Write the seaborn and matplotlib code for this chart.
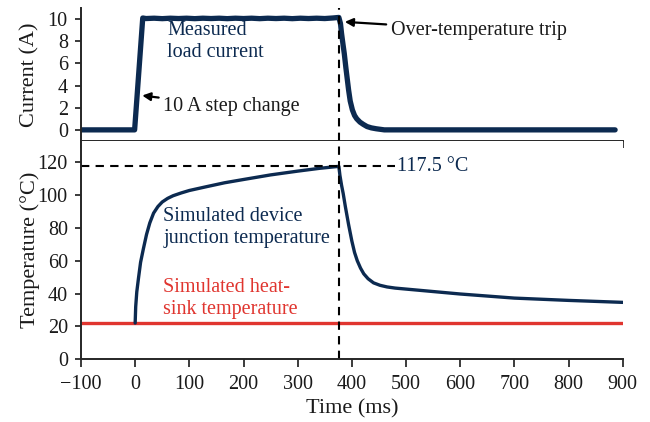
import matplotlib
matplotlib.use("Agg")
import matplotlib.pyplot as plt
import seaborn as sns

sns.set_style("ticks")
plt.rcParams['font.family'] = ['Liberation Serif', 'DejaVu Serif']
plt.rcParams['font.size'] = 14.5
plt.rcParams['xtick.labelsize'] = 14.5
plt.rcParams['ytick.labelsize'] = 14.5
plt.rcParams['axes.labelsize'] = 16
plt.rcParams['axes.unicode_minus'] = True
plt.rcParams['text.color'] = '#1a1a1a'
plt.rcParams['axes.labelcolor'] = '#1a1a1a'
plt.rcParams['xtick.color'] = '#1a1a1a'
plt.rcParams['ytick.color'] = '#1a1a1a'

NAVY = "#0c2a50"
RED = "#e0352f"

# Measured load current (ms, A)
cur_t = [-100, -50, -1, 14, 20, 35, 50, 65, 80, 95, 110, 125, 140, 155, 170, 185, 200, 215, 230,
         245, 260, 275, 290, 305, 320, 335, 350, 365, 376,
         379, 381, 384, 386, 389, 391, 394, 397, 401, 405, 409, 415, 421, 428, 436, 445, 460,
         500, 600, 700, 800, 886]
cur_i = [0.0, 0.0, 0.0, 10.1, 10.05, 10.08, 10.04, 10.08, 10.05, 10.08, 10.04, 10.08, 10.05, 10.08, 10.04, 10.08, 10.05, 10.08, 10.04,
         10.08, 10.05, 10.08, 10.04, 10.08, 10.05, 10.08, 10.05, 10.1, 10.15,
         9.6, 8.7, 7.6, 6.9, 5.6, 4.8, 3.6, 2.6, 1.8, 1.3, 1.0, 0.7, 0.5, 0.3, 0.18, 0.1, 0.0,
         0.0, 0.0, 0.0, 0.0, 0.0]

# Simulated device junction temperature (ms, degC)
tj_t = [0, 1, 3, 6, 10, 15, 21, 27, 34, 42, 50, 60, 70, 85, 100, 130, 165, 200, 250, 300, 340, 376,
        378, 381, 384, 388, 394, 400, 405, 410, 416, 422, 430, 440, 452, 465, 480, 500, 550, 600, 700, 800, 900]
tj_v = [22.0, 32.0, 41.0, 49.0, 59.0, 67.0, 76.0, 83.0, 89.0, 93.0, 95.8, 98.0, 99.6, 101.3, 102.8, 105.0, 107.5, 109.5, 112.3, 114.6, 116.3, 117.5,
        112.0, 106.0, 101.0, 93.0, 82.0, 72.0, 65.0, 60.0, 55.5, 52.0, 49.0, 46.5, 45.0, 44.0, 43.3, 42.7, 41.2, 39.7, 37.2, 35.8, 34.6]

# Simulated heat-sink temperature
hs_t = [-100, 900]
hs_v = [22.0, 22.0]

trip_t = 376
peak_T = 117.5

fig = plt.figure(figsize=(6.5, 4.22), dpi=100)
ax1 = fig.add_axes([0.1246, 0.666, 0.8334, 0.315])
ax2 = fig.add_axes([0.1246, 0.149, 0.8334, 0.517])

DASH = (0, (4, 3))
ARROW = dict(arrowstyle='-|>', color='black', lw=1.6, mutation_scale=12, shrinkA=1, shrinkB=0)

sns.lineplot(x=cur_t, y=cur_i, ax=ax1, color=NAVY, lw=3.8, estimator=None, sort=False)
ax1.set_xlim(-100, 900)
ax1.set_ylim(-1, 11)
ax1.set_yticks([0, 2, 4, 6, 8, 10])
ax1.set_xticks(range(-100, 1000, 100))
ax1.tick_params(axis='x', labelbottom=False, direction='out', length=5, width=1.2)
ax1.tick_params(axis='y', direction='out', length=4.5, width=1.2, pad=5)
ax1.set_ylabel("Current (A)")
ax1.yaxis.set_label_coords(-0.076, 0.5)
ax1.axvline(trip_t, color='black', ls=DASH, lw=1.5)
ax1.text(59, 8.0, "Measured\nload current", color=NAVY, va='center', ha='left', linespacing=1.22)
ax1.annotate("10 A step change", xy=(13, 3.1), xytext=(52, 2.1), ha='left', va='center', arrowprops=ARROW)
ax1.annotate("Over-temperature trip", xy=(387, 9.75), xytext=(472, 9.0), ha='left', va='center', arrowprops=ARROW)
sns.despine(ax=ax1)

sns.lineplot(x=hs_t, y=hs_v, ax=ax2, color=RED, lw=2.4, estimator=None)
sns.lineplot(x=tj_t, y=tj_v, ax=ax2, color=NAVY, lw=2.4, estimator=None, sort=False)
ax2.set_xlim(-100, 900)
ax2.set_ylim(0, 133)
ax2.set_yticks(range(0, 140, 20))
ax2.set_xticks(range(-100, 1000, 100))
ax2.tick_params(axis='x', direction='out', length=5.5, width=1.2, pad=6)
ax2.tick_params(axis='y', direction='out', length=4.5, width=1.2, pad=5)
ax2.set_xlabel("Time (ms)", labelpad=4)
ax2.set_ylabel("Temperature (°C)")
ax2.yaxis.set_label_coords(-0.076, 0.5)
ax2.axvline(trip_t, color='black', ls=DASH, lw=1.5)
ax2.plot([-100, 480], [peak_T, peak_T], color='black', ls=DASH, lw=1.5)
ax2.text(484, peak_T, "117.5 °C", color=NAVY, va='center', ha='left')
ax2.text(52, 80, "Simulated device\njunction temperature", color=NAVY, va='center', ha='left', linespacing=1.22)
ax2.text(52, 37, "Simulated heat-\nsink temperature", color=RED, va='center', ha='left', linespacing=1.22)
sns.despine(ax=ax2)
for ax in (ax1, ax2):
    for s in ax.spines.values():
        s.set_linewidth(1.4)

fig.savefig("out.png", dpi=100)
